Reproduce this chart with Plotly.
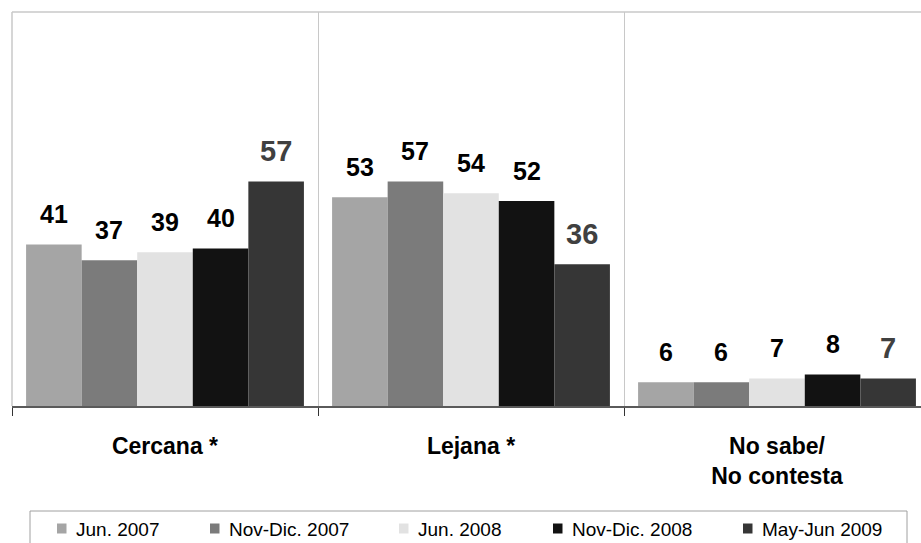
import plotly.graph_objects as go

categories = ["Cercana *", "Lejana *", "No sabe/<br>No contesta"]
series_names = ["Jun. 2007", "Nov-Dic. 2007", "Jun. 2008", "Nov-Dic. 2008", "May-Jun 2009"]
jun_2007 = [41, 53, 6]
nov_dic_2007 = [37, 57, 6]
jun_2008 = [39, 54, 7]
nov_dic_2008 = [40, 52, 8]
may_jun_2009 = [57, 36, 7]
series_values = [jun_2007, nov_dic_2007, jun_2008, nov_dic_2008, may_jun_2009]
colors = ["#a5a5a5", "#7b7b7b", "#e2e2e2", "#121212", "#363636"]
label_colors = ["#000000", "#000000", "#000000", "#000000", "#404040"]
label_sizes = [25, 25, 25, 25, 29]

# legend layout (pixel positions of the legend squares)
legend_square_px = [57, 210, 399, 553, 743]

W, H = 921, 543
FONT = "Liberation Sans, Arial, sans-serif"
bargap = 0.092
xpos = list(range(len(categories)))

fig = go.Figure()
n = len(series_names)
bw = (1 - bargap) / n
annotations = []
shapes = []
for i, (name, vals) in enumerate(zip(series_names, series_values)):
    fig.add_trace(go.Bar(x=xpos, y=vals, name=name, marker=dict(color=colors[i], line=dict(width=0))))
    off = -0.5 + bargap / 2 + (i + 0.5) * bw
    for xc, v in zip(xpos, vals):
        annotations.append(dict(x=xc + off, y=v, xref="x", yref="y", text=f"<b>{v}</b>",
                                showarrow=False, yanchor="middle", yshift=30,
                                font=dict(family=FONT, size=label_sizes[i], color=label_colors[i])))

# manual legend (container pixel coordinates -> paper fractions)
L, T, B = 12, 12, 137
plot_w = W - L
plot_h = H - T - B
def px_x(px):
    return (px - L) / plot_w
def px_y(py):
    return (H - B - py) / plot_h

legend_cy = 528.5
for i, name in enumerate(series_names):
    sx = legend_square_px[i]
    shapes.append(dict(type="rect", xref="paper", yref="paper",
                       x0=px_x(sx), x1=px_x(sx + 9.5), y0=px_y(legend_cy + 5), y1=px_y(legend_cy - 5),
                       line=dict(width=0), fillcolor=colors[i]))
    annotations.append(dict(x=px_x(sx + 17), y=px_y(legend_cy + 1), xref="paper", yref="paper",
                            text=name, showarrow=False, xanchor="left", yanchor="middle",
                            font=dict(family=FONT, size=19, color="#000000")))

cat_px = 306.0
xmax = -0.5 + plot_w / cat_px

shapes += [
    dict(type="line", xref="x domain", yref="y domain", x0=0, x1=1, y0=1, y1=1,
         line=dict(color="#c8c8c8", width=1.5)),
    dict(type="line", xref="x domain", yref="y domain", x0=0, x1=0, y0=0, y1=1,
         line=dict(color="#c8c8c8", width=1.5)),
    dict(type="rect", xref="paper", yref="paper",
         x0=px_x(30), x1=px_x(907), y0=px_y(560), y1=px_y(511),
         line=dict(color="#a0a0a0", width=1), fillcolor="rgba(0,0,0,0)"),
]

fig.update_layout(
    width=W, height=H,
    margin=dict(l=L, r=0, t=T, b=B, autoexpand=False),
    paper_bgcolor="white", plot_bgcolor="white",
    barmode="group", bargap=bargap, bargroupgap=0,
    font=dict(family=FONT, color="#000000"),
    showlegend=False,
    annotations=annotations,
    xaxis=dict(range=[-0.5, xmax], tickmode="array", tickvals=xpos,
               ticktext=[f"<b>{c}</b>" for c in categories],
               tickfont=dict(family=FONT, size=23, color="#000000"),
               ticks="", showgrid=False, zeroline=False,
               showline=True, linecolor="#5a5a5a", linewidth=1.5,
               ticklabelstandoff=19,
               minor=dict(tickmode="array", tickvals=[-0.5, 0.5, 1.5, 2.5], ticks="outside",
                          ticklen=8, tickcolor="#333333", tickwidth=1,
                          showgrid=True, gridcolor="#c8c8c8", gridwidth=1)),
    yaxis=dict(range=[0, 100], showticklabels=False, ticks="", showgrid=False,
               zeroline=False, showline=False),
    shapes=shapes,
)

fig.write_html("out.html", config={"displayModeBar": False},
               post_script="document.body.style.margin='0';document.body.style.overflow='hidden';")
